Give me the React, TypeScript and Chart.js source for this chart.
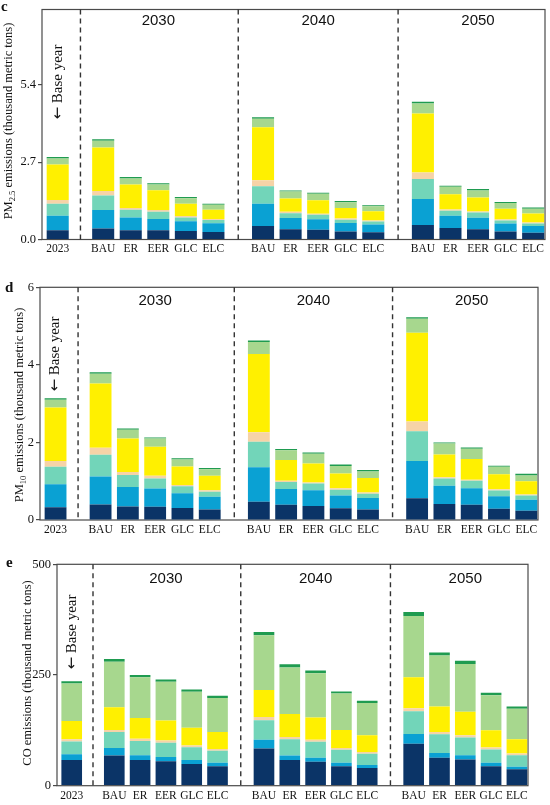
import React, { useEffect, useRef } from 'react'
import { Chart, ChartConfiguration, Plugin, registerables } from 'chart.js'

Chart.register(...registerables)

const scenarios = ['BAU', 'ER', 'EER', 'GLC', 'ELC']
const periods = ['2030', '2040', '2050']
const baseYear = '2023'
const xLabels = [baseYear, ...scenarios, ...scenarios, ...scenarios]

// stack layers, bottom to top
const layerNames = ['Layer 1', 'Layer 2', 'Layer 3', 'Layer 4', 'Layer 5', 'Layer 6', 'Layer 7']
const layerColors = ['#0b3467', '#0aa1d3', '#72d5b9', '#f6d3a7', '#fff000', '#a7d78e', '#1f9b50']

// PM2.5, one row per layer: 2023, then BAU ER EER GLC ELC for 2030 / 2040 / 2050
const pm25Series: number[][] = [
  [0.32, 0.38, 0.32, 0.32, 0.30, 0.26, 0.47, 0.36, 0.34, 0.28, 0.25, 0.51, 0.40, 0.36, 0.28, 0.24],
  [0.51, 0.65, 0.45, 0.40, 0.34, 0.31, 0.78, 0.39, 0.37, 0.30, 0.27, 0.90, 0.43, 0.40, 0.28, 0.23],
  [0.42, 0.51, 0.27, 0.25, 0.13, 0.11, 0.61, 0.17, 0.15, 0.11, 0.11, 0.70, 0.17, 0.18, 0.10, 0.09],
  [0.13, 0.15, 0.06, 0.06, 0.05, 0.04, 0.21, 0.05, 0.04, 0.04, 0.03, 0.23, 0.05, 0.04, 0.04, 0.03],
  [1.24, 1.52, 0.82, 0.69, 0.43, 0.32, 1.85, 0.46, 0.47, 0.37, 0.33, 2.06, 0.53, 0.49, 0.37, 0.32],
  [0.21, 0.24, 0.21, 0.20, 0.19, 0.17, 0.30, 0.25, 0.23, 0.20, 0.17, 0.35, 0.26, 0.24, 0.20, 0.16],
  [0.05, 0.05, 0.05, 0.04, 0.04, 0.04, 0.05, 0.03, 0.03, 0.04, 0.04, 0.06, 0.04, 0.05, 0.04, 0.05],
]

const pm10Series: number[][] = [
  [0.33, 0.40, 0.35, 0.34, 0.31, 0.27, 0.47, 0.39, 0.36, 0.30, 0.27, 0.56, 0.41, 0.39, 0.29, 0.24],
  [0.59, 0.72, 0.50, 0.47, 0.38, 0.33, 0.89, 0.41, 0.41, 0.33, 0.30, 0.96, 0.47, 0.43, 0.32, 0.28],
  [0.45, 0.56, 0.31, 0.26, 0.18, 0.13, 0.66, 0.18, 0.17, 0.15, 0.11, 0.77, 0.19, 0.19, 0.15, 0.11],
  [0.15, 0.18, 0.08, 0.07, 0.03, 0.04, 0.24, 0.03, 0.03, 0.04, 0.03, 0.25, 0.03, 0.03, 0.03, 0.03],
  [1.38, 1.66, 0.86, 0.75, 0.48, 0.37, 2.02, 0.54, 0.49, 0.38, 0.37, 2.29, 0.59, 0.53, 0.39, 0.34],
  [0.20, 0.25, 0.23, 0.21, 0.18, 0.17, 0.31, 0.25, 0.25, 0.19, 0.17, 0.36, 0.28, 0.27, 0.19, 0.15],
  [0.04, 0.04, 0.03, 0.03, 0.03, 0.03, 0.04, 0.03, 0.03, 0.04, 0.04, 0.04, 0.03, 0.03, 0.03, 0.04],
]

const coSeries: number[][] = [
  [58, 68, 58, 55, 49, 44, 84, 58, 54, 44, 40, 95, 63, 59, 44, 37],
  [13, 17, 11, 10, 9, 8, 20, 10, 9, 8, 7, 22, 11, 10, 8, 6],
  [29, 36, 32, 32, 29, 27, 44, 37, 36, 29, 25, 51, 42, 40, 30, 26],
  [5, 5, 5, 5, 4, 4, 7, 5, 5, 4, 4, 7, 5, 5, 4, 4],
  [41, 51, 47, 45, 40, 38, 61, 52, 50, 41, 38, 70, 58, 53, 39, 32],
  [85, 103, 92, 88, 81, 77, 124, 105, 100, 82, 73, 138, 115, 108, 79, 69],
  [5, 6, 5, 5, 5, 5, 7, 7, 6, 5, 5, 9, 7, 7, 6, 5],
]

const pm25Ticks = [0, 2.7, 5.4]
const pm10Ticks = [0, 2, 4, 6]
const coTicks = [0, 250, 500]

// x positions: base year, then three groups of five with wider gaps
const groupStarts = [1.65, 7.45, 13.25]
const xPos = [0, ...groupStarts.flatMap((s) => scenarios.map((_, i) => s + i))]
const dividers = [(xPos[0] + xPos[1]) / 2, (xPos[5] + xPos[6]) / 2, (xPos[10] + xPos[11]) / 2]

const SERIF = '"Liberation Serif", "Times New Roman", serif'
const SANS = '"Liberation Sans", Arial, sans-serif'

const overlay: Plugin<'bar'> = {
  id: 'overlay',
  beforeDatasetsDraw(chart) {
    const { ctx, chartArea: a } = chart
    ctx.save()
    ctx.strokeStyle = '#4a4a4a'
    ctx.lineWidth = 1.2
    ctx.strokeRect(a.left, a.top, a.right - a.left, a.bottom - a.top)
    ctx.restore()
  },
  afterDatasetsDraw(chart) {
    const { ctx, chartArea: a } = chart
    const x = chart.scales.x
    ctx.save()
    ctx.setLineDash([5, 4])
    ctx.strokeStyle = '#333'
    ctx.lineWidth = 1.4
    dividers.forEach((v) => {
      const px = x.getPixelForValue(v)
      ctx.beginPath()
      ctx.moveTo(px, a.top)
      ctx.lineTo(px, a.bottom)
      ctx.stroke()
    })
    ctx.restore()
  },
  afterDraw(chart, _args, opts: any) {
    const { ctx } = chart
    const x = chart.scales.x
    ctx.save()
    ctx.fillStyle = '#111'

    // period titles
    ctx.font = `15px ${SANS}`
    ctx.textAlign = 'center'
    ctx.textBaseline = 'middle'
    periods.forEach((p, i) => {
      const c = (xPos[1 + i * 5] + xPos[5 + i * 5]) / 2
      ctx.fillText(p, x.getPixelForValue(c), opts.yearY)
    })

    // base year note: arrow then text, reading upwards
    ctx.save()
    ctx.translate(x.getPixelForValue(xPos[0]), opts.baseY)
    ctx.rotate(-Math.PI / 2)
    ctx.textAlign = 'left'
    const arrowFont = '15px "DejaVu Sans", sans-serif'
    const noteFont = `15px ${SERIF}`
    ctx.font = arrowFont
    const wa = ctx.measureText('\u2190').width
    ctx.font = noteFont
    const wn = ctx.measureText(' Base year').width
    let bx = -(wa + wn) / 2
    ctx.font = arrowFont
    ctx.fillText('\u2190', bx, 0)
    bx += wa
    ctx.font = noteFont
    ctx.fillText(' Base year', bx, 0)
    ctx.restore()

    // panel letter
    ctx.font = `bold 15px ${SERIF}`
    ctx.textAlign = 'left'
    ctx.textBaseline = 'alphabetic'
    ctx.fillText(opts.letter, opts.letterX, opts.letterY)

    // y title with subscript
    ctx.translate(opts.titleX, opts.titleY)
    ctx.rotate(-Math.PI / 2)
    const big = `12.5px ${SERIF}`
    const small = `8.5px ${SERIF}`
    ctx.font = big
    const w1 = ctx.measureText(opts.titleMain).width
    const w3 = ctx.measureText(opts.titleRest).width
    ctx.font = small
    const w2 = opts.titleSub ? ctx.measureText(opts.titleSub).width : 0
    let x0 = -(w1 + w2 + w3) / 2
    ctx.textBaseline = 'middle'
    ctx.font = big
    ctx.fillText(opts.titleMain, x0, 0)
    x0 += w1
    if (opts.titleSub) {
      ctx.font = small
      ctx.fillText(opts.titleSub, x0, 3.5)
      x0 += w2
    }
    ctx.font = big
    ctx.fillText(opts.titleRest, x0, 0)
    ctx.restore()
  },
}

type PanelProps = {
  top: number
  height: number
  left: number
  right: number
  plotTop: number
  plotBottom: number
  series: number[][]
  yMax: number
  yTicks: number[]
  decimals: number
  letter: string
  letterX: number
  letterY: number
  titleMain: string
  titleSub: string
  titleRest: string
  titleX: number
  titleY: number
  yearY: number
  baseY: number
}

const Panel = (p: PanelProps) => {
  const chartRef = useRef<HTMLCanvasElement>(null)

  useEffect(() => {
    const config: ChartConfiguration<'bar'> = {
      type: 'bar',
      data: {
        datasets: p.series.map((vals, li) => ({
          label: layerNames[li],
          data: vals.map((v, i) => ({ x: xPos[i], y: v })) as any,
          backgroundColor: layerColors[li],
          borderWidth: 0,
          stack: 'all',
          barPercentage: 0.8,
          categoryPercentage: 1,
        })),
      },
      plugins: [overlay],
      options: {
        animation: false,
        responsive: true,
        maintainAspectRatio: false,
        layout: { padding: { left: 0, right: 550 - p.right, top: p.plotTop, bottom: 0 } },
        scales: {
          x: {
            type: 'linear',
            min: -0.57,
            max: 17.68,
            offset: false,
            border: { display: false },
            grid: { display: false, drawOnChartArea: false, drawTicks: false },
            afterBuildTicks: (scale) => {
              scale.ticks = xPos.map((v) => ({ value: v }))
            },
            afterFit: (scale) => {
              scale.height = p.height - p.plotBottom
            },
            ticks: {
              autoSkip: false,
              maxRotation: 0,
              padding: 3,
              color: '#111',
              font: { family: SERIF, size: 11.5 },
              callback: (_v, i) => xLabels[i],
            },
          },
          y: {
            stacked: true,
            min: 0,
            max: p.yMax,
            border: { display: false },
            grid: { drawOnChartArea: false, drawTicks: true, tickLength: 4, color: '#4a4a4a', lineWidth: 1.2 },
            afterBuildTicks: (scale) => {
              scale.ticks = p.yTicks.map((v) => ({ value: v }))
            },
            afterFit: (scale) => {
              scale.width = p.left
            },
            ticks: {
              padding: 2,
              color: '#111',
              font: { family: SERIF, size: 12.5 },
              callback: (v) => Number(v).toFixed(p.decimals),
            },
          },
        },
        plugins: {
          legend: { display: false },
          tooltip: { enabled: false },
          overlay: {
            letter: p.letter,
            letterX: p.letterX,
            letterY: p.letterY,
            titleMain: p.titleMain,
            titleSub: p.titleSub,
            titleRest: p.titleRest,
            titleX: p.titleX,
            titleY: p.titleY,
            yearY: p.yearY,
            baseY: p.baseY,
          },
        } as any,
      },
    }

    const chart = new Chart(chartRef.current as HTMLCanvasElement, config)
    return () => {
      chart.destroy()
    }
  }, [])

  return (
    <div style={{ position: 'absolute', left: 0, top: p.top, width: 550, height: p.height }}>
      <canvas ref={chartRef}></canvas>
    </div>
  )
}

const App = () => {
  return (
    <div style={{ position: 'absolute', left: 0, top: 0, width: 550, height: 805, background: '#fff' }}>
      <Panel
        top={0}
        height={262}
        left={42}
        right={545}
        plotTop={5}
        plotBottom={239.5}
        series={pm25Series}
        yMax={8.03}
        yTicks={pm25Ticks}
        decimals={1}
        letter="c"
        letterX={1}
        letterY={11}
        titleMain="PM"
        titleSub="2.5"
        titleRest=" emissions (thousand metric tons)"
        titleX={9}
        titleY={121}
        yearY={21}
        baseY={82}
      />
      <Panel
        top={270}
        height={275}
        left={40}
        right={538}
        plotTop={17.3}
        plotBottom={250}
        series={pm10Series}
        yMax={6}
        yTicks={pm10Ticks}
        decimals={0}
        letter="d"
        letterX={5}
        letterY={22}
        titleMain="PM"
        titleSub="10"
        titleRest=" emissions (thousand metric tons)"
        titleX={20}
        titleY={135}
        yearY={31}
        baseY={84}
      />
      <Panel
        top={545}
        height={260}
        left={57}
        right={528}
        plotTop={19.3}
        plotBottom={240.7}
        series={coSeries}
        yMax={500}
        yTicks={coTicks}
        decimals={0}
        letter="e"
        letterX={6}
        letterY={22}
        titleMain="CO"
        titleSub=""
        titleRest=" emissions (thousand metric tons)"
        titleX={28}
        titleY={128}
        yearY={34}
        baseY={87}
      />
    </div>
  )
}

export default App
